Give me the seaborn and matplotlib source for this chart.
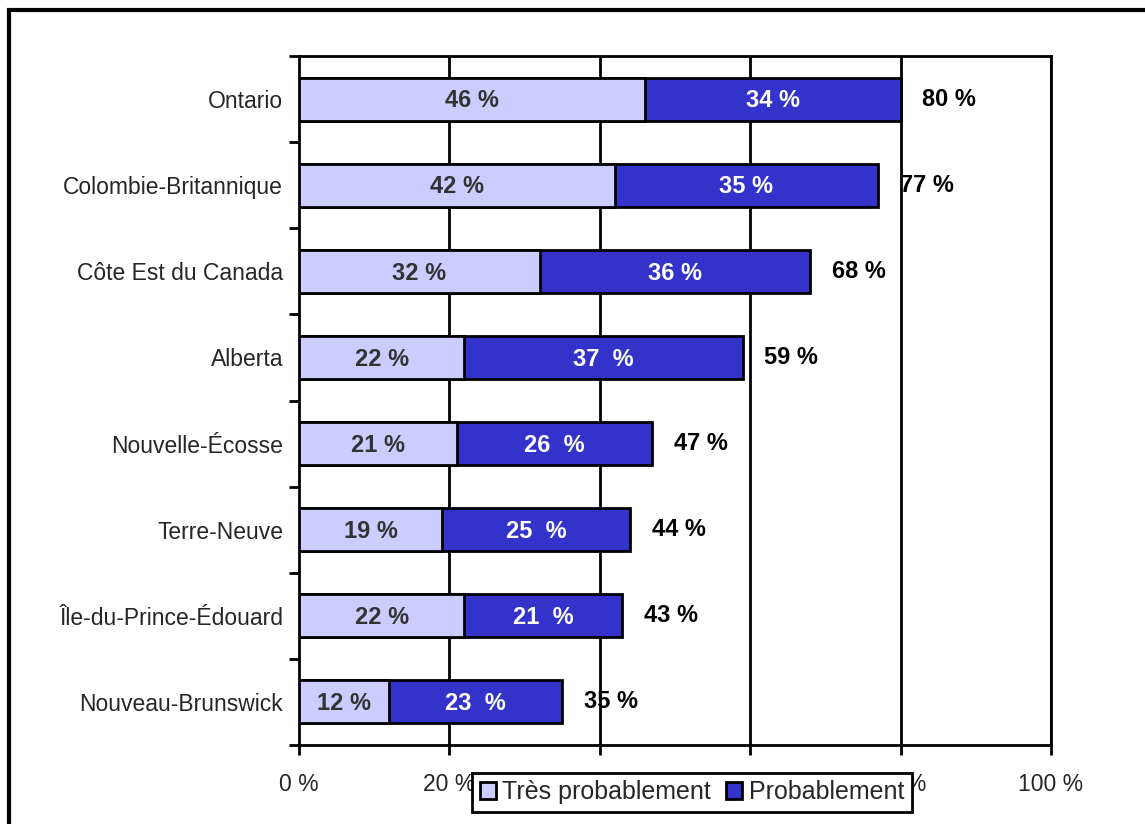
import matplotlib
matplotlib.use("Agg")
import matplotlib.pyplot as plt
import seaborn as sns
import pandas as pd
from matplotlib.patches import Rectangle

regions = ["Ontario", "Colombie-Britannique", "Côte Est du Canada", "Alberta",
           "Nouvelle-Écosse", "Terre-Neuve", "Île-du-Prince-Édouard", "Nouveau-Brunswick"]
tres_probablement = [46, 42, 32, 22, 21, 19, 22, 12]
probablement = [34, 35, 36, 37, 26, 25, 21, 23]
totals = [80, 77, 68, 59, 47, 44, 43, 35]
tres_labels = ["46 %", "42 %", "32 %", "22 %", "21 %", "19 %", "22 %", "12 %"]
prob_labels = ["34 %", "35 %", "36 %", "37  %", "26  %", "25  %", "21  %", "23  %"]
total_labels = ["80 %", "77 %", "68 %", "59 %", "47 %", "44 %", "43 %", "35 %"]
x_ticks = [0, 20, 40, 60, 80, 100]
x_tick_labels = ["0 %", "20 %", "40 %", "60 %", "80 %", "100 %"]
series_names = ["Très probablement", "Probablement"]

LIGHT = "#CCCCFF"
DARK = "#3333CC"
FS = 16.5
FSB = 17

sns.set_theme(style="white")
plt.rcParams["font.family"] = ["Liberation Sans", "DejaVu Sans"]

df = pd.DataFrame({"region": regions, "tres": tres_probablement,
                   "prob": probablement, "total": [a + b for a, b in zip(tres_probablement, probablement)]})

fig = plt.figure(figsize=(11.45, 8.24), dpi=100)
ax = fig.add_axes([299 / 1145, 1 - 745 / 824, (1051 - 299) / 1145, (745 - 56) / 824])

# gridlines
for xv in x_ticks[1:]:
    ax.axvline(xv, color="black", lw=2, zorder=0)

sns.barplot(data=df, y="region", x="total", orient="h", color=DARK, saturation=1,
            edgecolor="black", linewidth=2, width=0.5, ax=ax, zorder=2)
sns.barplot(data=df, y="region", x="tres", orient="h", color=LIGHT, saturation=1,
            edgecolor="black", linewidth=2, width=0.5, ax=ax, zorder=3)

for i in range(len(regions)):
    a = tres_probablement[i]
    b = probablement[i]
    ax.text(a / 2, i + 0.02, tres_labels[i], ha="center", va="center", color="#333333",
            fontsize=FSB, fontweight="bold", zorder=5)
    ax.text(a + b / 2, i + 0.02, prob_labels[i], ha="center", va="center", color="white",
            fontsize=FSB, fontweight="bold", zorder=5)
    ax.text(a + b + 2.9, i, total_labels[i], ha="left", va="center", color="black",
            fontsize=FSB, fontweight="bold", zorder=5)

ax.set_xlim(0, 100)
ax.set_ylim(len(regions) - 0.5, -0.5)
ax.set_xticks(x_ticks)
ax.set_xticklabels(x_tick_labels, fontsize=FS)
ax.set_yticks(range(len(regions)))
ax.set_yticklabels(regions, fontsize=FS)
ax.set_yticks([i - 0.5 for i in range(len(regions) + 1)], minor=True)
ax.tick_params(axis="y", which="major", length=0, pad=11.5)
ax.tick_params(axis="y", which="minor", length=7, width=2, color="black", direction="out", left=True)
ax.tick_params(axis="x", which="major", length=7, width=2, color="black", direction="out",
               bottom=True, pad=13)
ax.set_xlabel("")
ax.set_ylabel("")
for s in ax.spines.values():
    s.set_visible(True)
    s.set_color("black")
    s.set_linewidth(2)

handles = [Rectangle((0, 0), 1, 1, facecolor=LIGHT, edgecolor="black", lw=2),
           Rectangle((0, 0), 1, 1, facecolor=DARK, edgecolor="black", lw=2)]
leg = fig.legend(handles, series_names, loc="center", bbox_to_anchor=(692 / 1145, 1 - 792 / 824),
                 ncol=2, fontsize=18, frameon=True, fancybox=False, shadow=False,
                 handlelength=0.65, handleheight=0.65, handletextpad=0.25, columnspacing=0.6,
                 borderpad=0.3, borderaxespad=0)
leg.get_frame().set_edgecolor("black")
leg.get_frame().set_linewidth(2)
leg.get_frame().set_facecolor("white")
leg.get_frame().set_alpha(1)
leg.set_zorder(10)

# outer frame
fig.patches.append(Rectangle((9 / 1145, -0.1), 1.2, 1 - 10 / 824 + 0.1, transform=fig.transFigure,
                             fill=False, edgecolor="black", lw=3, zorder=0))

fig.savefig("out.png", dpi=100)
